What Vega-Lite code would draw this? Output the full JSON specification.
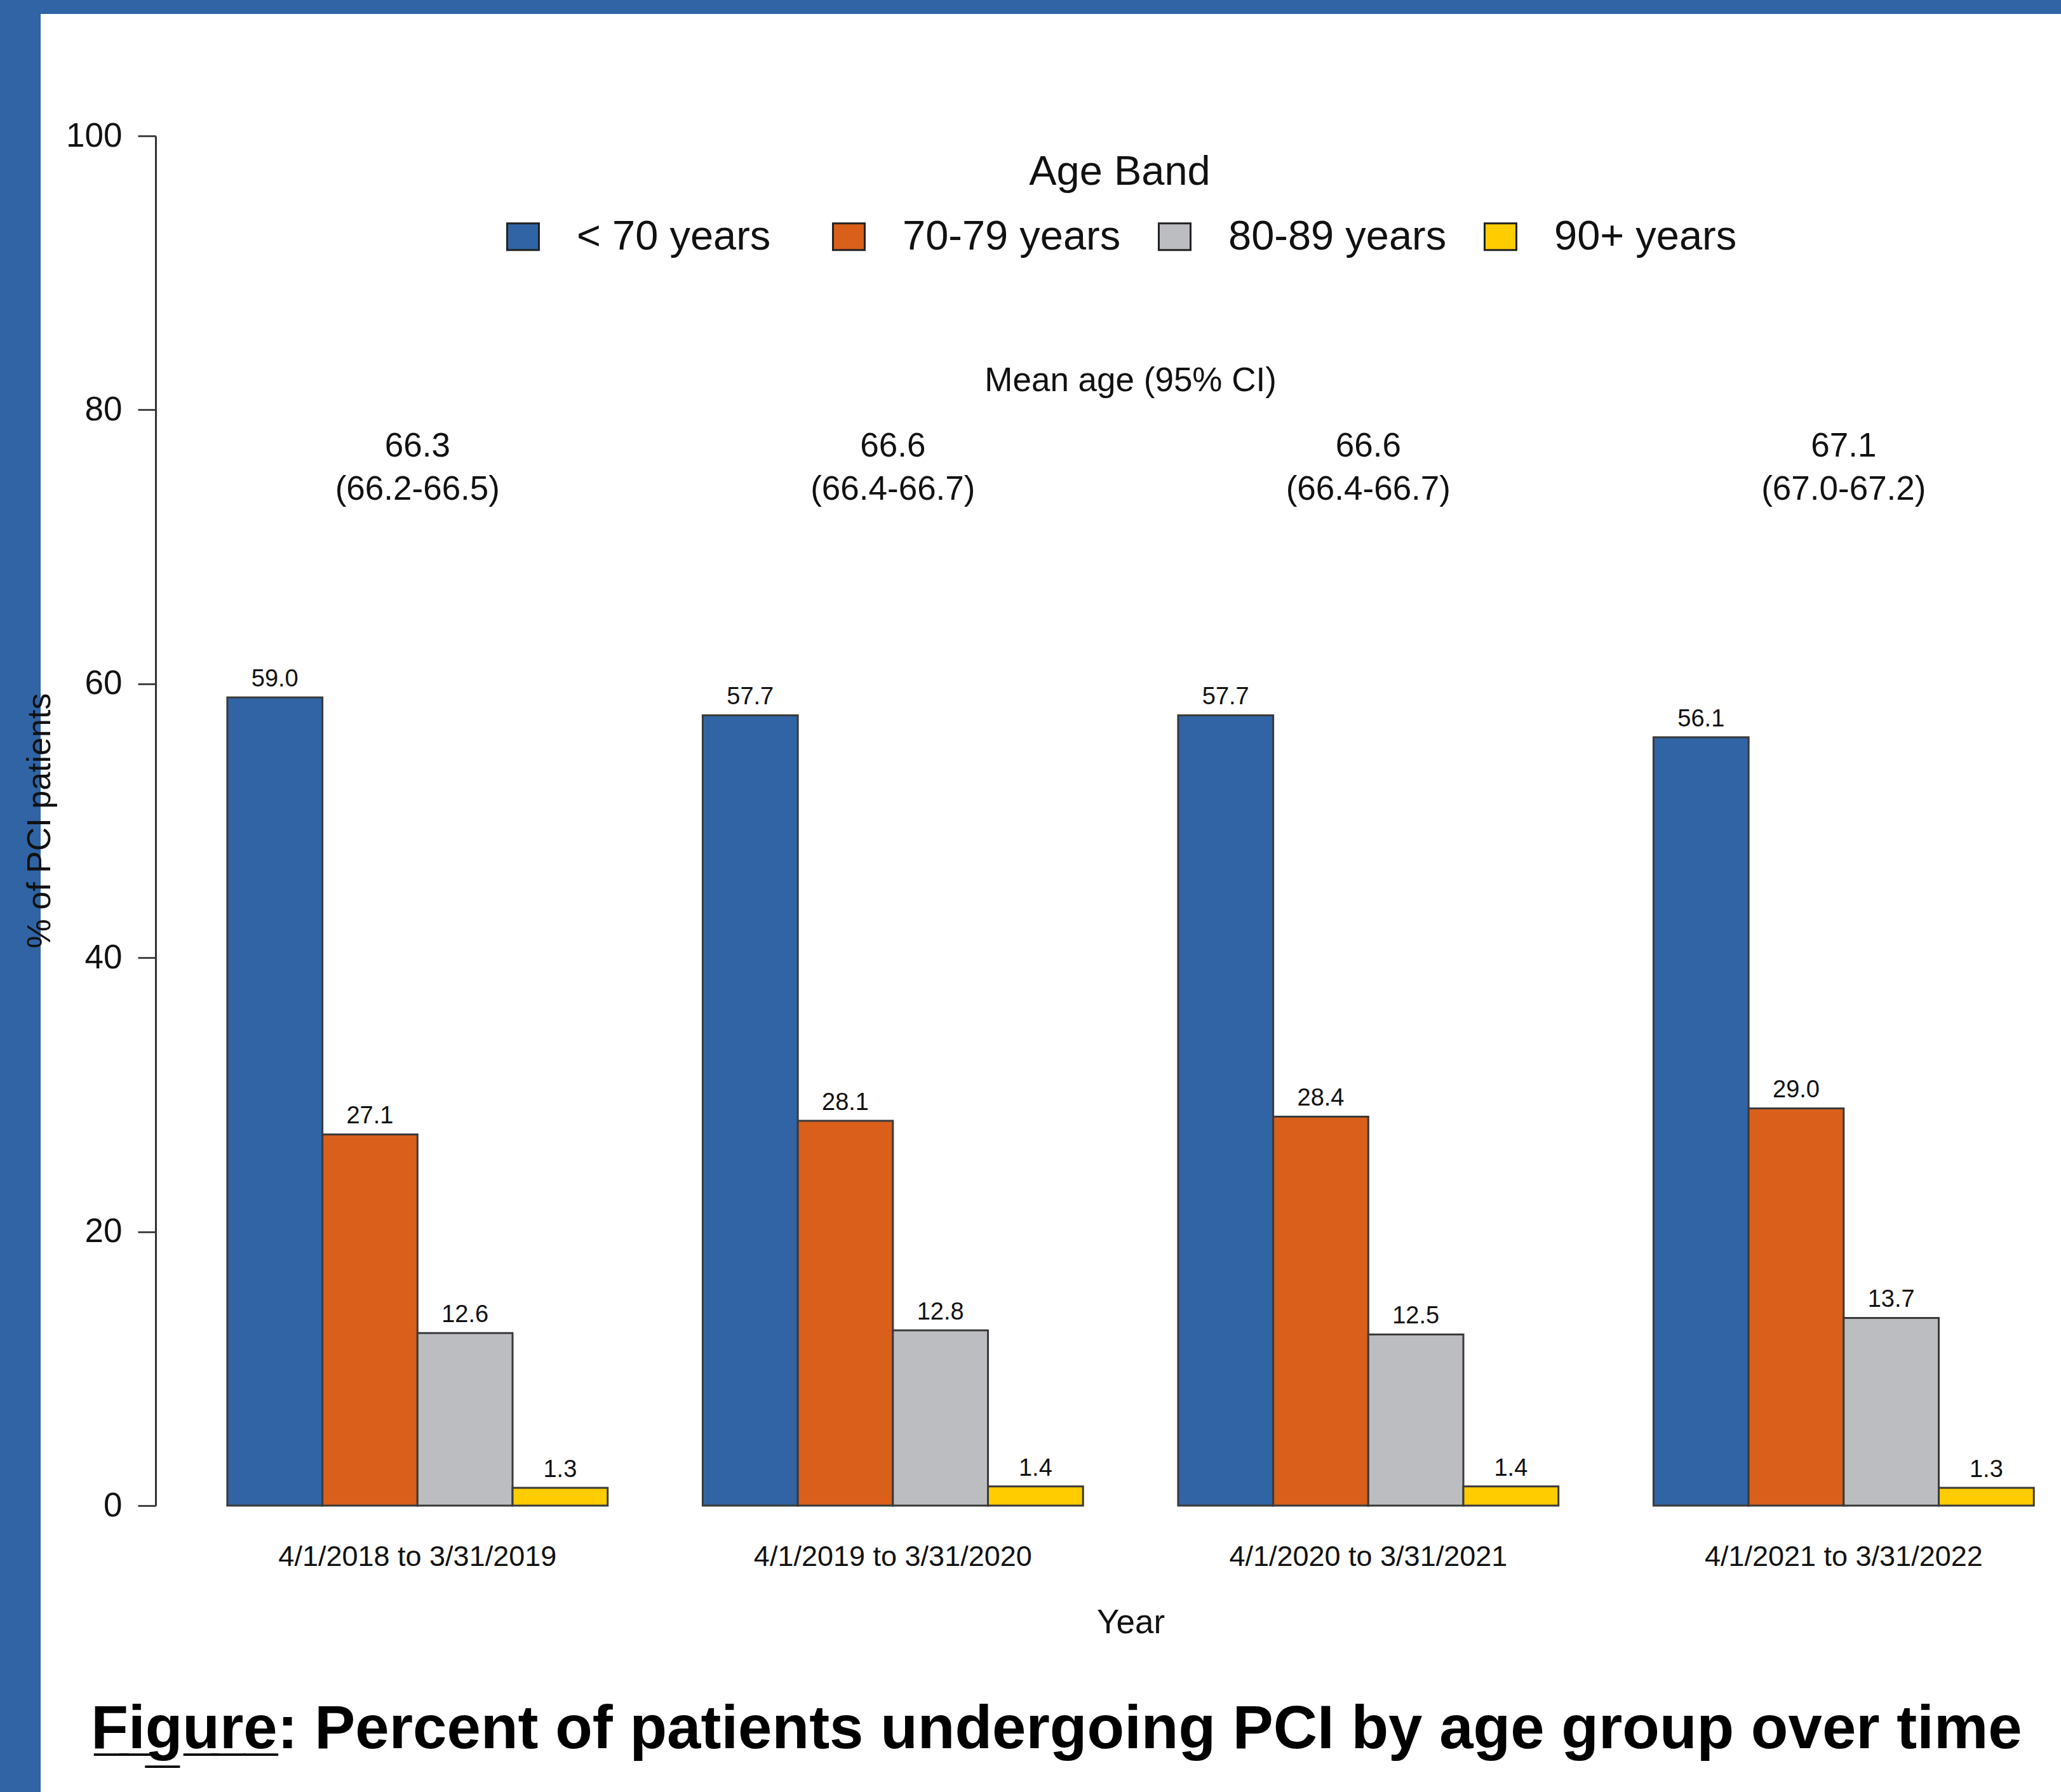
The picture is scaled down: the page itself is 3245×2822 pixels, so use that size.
{
  "$schema": "https://vega.github.io/schema/vega-lite/v6.json",
  "width": 3181,
  "height": 2800,
  "autosize": "none",
  "padding": {"left": 64, "top": 22, "right": 0, "bottom": 0},
  "background": "#3064a4",
  "title": {
    "text": "F̲i̲g̲u̲r̲e̲: Percent of patients undergoing PCI by age group over time",
    "orient": "bottom",
    "anchor": "middle",
    "offset": -69,
    "dx": 9,
    "fontSize": 96,
    "fontWeight": "bold",
    "font": "Liberation Sans",
    "color": "#000000",
    "baseline": "alphabetic",
    "limit": 4000
  },
  "datasets": {
    "bars": [
      {"period": "4/1/2018 to 3/31/2019", "band": "< 70 years", "pct": 59.0},
      {"period": "4/1/2018 to 3/31/2019", "band": "70-79 years", "pct": 27.1},
      {"period": "4/1/2018 to 3/31/2019", "band": "80-89 years", "pct": 12.6},
      {"period": "4/1/2018 to 3/31/2019", "band": "90+ years", "pct": 1.3},
      {"period": "4/1/2019 to 3/31/2020", "band": "< 70 years", "pct": 57.7},
      {"period": "4/1/2019 to 3/31/2020", "band": "70-79 years", "pct": 28.1},
      {"period": "4/1/2019 to 3/31/2020", "band": "80-89 years", "pct": 12.8},
      {"period": "4/1/2019 to 3/31/2020", "band": "90+ years", "pct": 1.4},
      {"period": "4/1/2020 to 3/31/2021", "band": "< 70 years", "pct": 57.7},
      {"period": "4/1/2020 to 3/31/2021", "band": "70-79 years", "pct": 28.4},
      {"period": "4/1/2020 to 3/31/2021", "band": "80-89 years", "pct": 12.5},
      {"period": "4/1/2020 to 3/31/2021", "band": "90+ years", "pct": 1.4},
      {"period": "4/1/2021 to 3/31/2022", "band": "< 70 years", "pct": 56.1},
      {"period": "4/1/2021 to 3/31/2022", "band": "70-79 years", "pct": 29.0},
      {"period": "4/1/2021 to 3/31/2022", "band": "80-89 years", "pct": 13.7},
      {"period": "4/1/2021 to 3/31/2022", "band": "90+ years", "pct": 1.3}
    ],
    "means": [
      {"period": "4/1/2018 to 3/31/2019", "mean": "66.3", "ci": "(66.2-66.5)"},
      {"period": "4/1/2019 to 3/31/2020", "mean": "66.6", "ci": "(66.4-66.7)"},
      {"period": "4/1/2020 to 3/31/2021", "mean": "66.6", "ci": "(66.4-66.7)"},
      {"period": "4/1/2021 to 3/31/2022", "mean": "67.1", "ci": "(67.0-67.2)"}
    ],
    "header": [{"label": "Mean age (95% CI)"}]
  },
  "encoding": {
    "x": {
      "field": "period",
      "type": "nominal",
      "sort": null,
      "scale": {
        "domain": ["4/1/2018 to 3/31/2019", "4/1/2019 to 3/31/2020", "4/1/2020 to 3/31/2021", "4/1/2021 to 3/31/2022"],
        "paddingInner": 0.2,
        "paddingOuter": 0.2249,
        "align": 0.873
      },
      "axis": {
        "orient": "bottom",
        "offset": -451,
        "domain": false,
        "ticks": false,
        "tickSize": 0,
        "labelPadding": 94,
        "labelBaseline": "alphabetic",
        "labelFontSize": 45,
        "labelColor": "#111111",
        "labelAngle": 0,
        "labelLimit": 2000,
        "title": "Year",
        "titleFontSize": 53,
        "titleFontWeight": "normal",
        "titleColor": "#111111",
        "titleX": 1716,
        "titleY": 200,
        "titleBaseline": "alphabetic",
        "titleAlign": "center"
      }
    }
  },
  "layer": [
    {
      "data": {"name": "bars"},
      "mark": {"type": "bar", "stroke": "#3a3a3a", "strokeWidth": 3, "opacity": 1},
      "encoding": {
        "xOffset": {
          "field": "band",
          "type": "nominal",
          "sort": null,
          "scale": {"domain": ["< 70 years", "70-79 years", "80-89 years", "90+ years"], "paddingInner": 0, "paddingOuter": 0}
        },
        "y": {
          "field": "pct",
          "type": "quantitative",
          "scale": {"domain": [0, 100], "range": [2349, 192], "nice": false, "zero": false},
          "axis": {
            "values": [0, 20, 40, 60, 80, 100],
            "offset": -181,
            "grid": false,
            "domainColor": "#333333",
            "domainWidth": 3,
            "tickColor": "#444444",
            "tickWidth": 3,
            "tickSize": 28,
            "labelFontSize": 53,
            "labelPadding": 25,
            "labelColor": "#111111",
            "title": "% of PCI patients",
            "titleFontSize": 52,
            "titleFontWeight": "normal",
            "titleColor": "#111111",
            "titleAngle": 270,
            "titleX": -167,
            "titleY": 1270,
            "titleBaseline": "alphabetic",
            "titleAlign": "center"
          }
        },
        "color": {
          "field": "band",
          "type": "nominal",
          "sort": null,
          "scale": {
            "domain": ["< 70 years", "70-79 years", "80-89 years", "90+ years"],
            "range": ["#3164a5", "#d95f1a", "#bcbdc1", "#ffcc00"]
          },
          "legend": {
            "title": "Age Band",
            "orient": "none",
            "legendX": 727,
            "legendY": 218,
            "direction": "horizontal",
            "columns": 4,
            "gridAlign": "all",
            "padding": 0,
            "titleFontSize": 65,
            "titleFontWeight": "normal",
            "titleColor": "#111111",
            "titleAnchor": "middle",
            "titleLimit": 3000,
            "titlePadding": 35,
            "labelFontSize": 65,
            "labelColor": "#111111",
            "labelLimit": 2000,
            "labelOffset": 52,
            "columnPadding": 52,
            "symbolType": "M-1,-0.84H1V0.84H-1Z",
            "symbolSize": 2500,
            "symbolStrokeColor": "#222222",
            "symbolStrokeWidth": 3,
            "symbolOpacity": 1
          }
        }
      }
    },
    {
      "data": {"name": "bars"},
      "mark": {"type": "text", "baseline": "alphabetic", "dy": -17, "fontSize": 38, "color": "#111111"},
      "encoding": {
        "xOffset": {"field": "band", "type": "nominal", "sort": null},
        "y": {"field": "pct", "type": "quantitative"},
        "text": {"field": "pct", "type": "quantitative", "format": ".1f"}
      }
    },
    {
      "data": {"name": "means"},
      "mark": {"type": "text", "baseline": "alphabetic", "fontSize": 53, "color": "#111111"},
      "encoding": {
        "y": {"datum": 76.6},
        "text": {"field": "mean"}
      }
    },
    {
      "data": {"name": "means"},
      "mark": {"type": "text", "baseline": "alphabetic", "fontSize": 53, "color": "#111111"},
      "encoding": {
        "y": {"datum": 73.45},
        "text": {"field": "ci"}
      }
    },
    {
      "data": {"name": "header"},
      "mark": {"type": "text", "baseline": "alphabetic", "fontSize": 53, "color": "#111111"},
      "encoding": {
        "x": {"datum": "4/1/2019 to 3/31/2020", "bandPosition": 1.125},
        "y": {"datum": 81.36},
        "text": {"field": "label"}
      }
    }
  ],
  "config": {
    "font": "Liberation Sans",
    "view": {"fill": "#ffffff", "stroke": null}
  }
}
